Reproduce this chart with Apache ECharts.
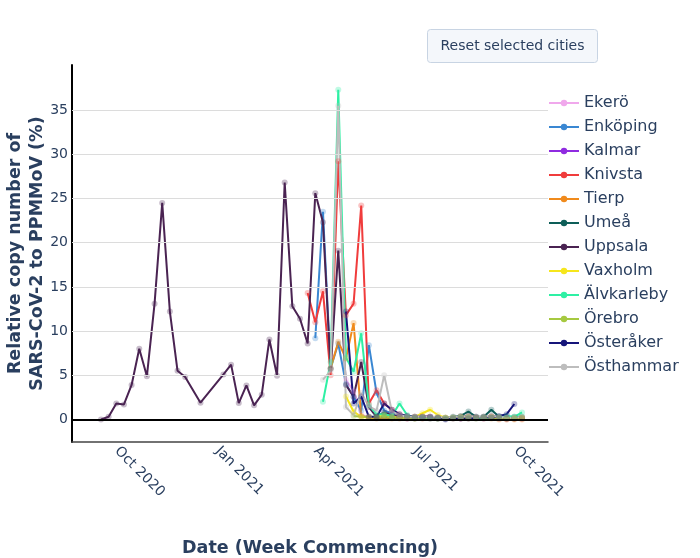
<!DOCTYPE html>
<html>
<head>
<meta charset="utf-8">
<title>SARS-CoV-2 relative copy number</title>
<script src="https://cdn.jsdelivr.net/npm/echarts@6/dist/echarts.min.js"></script>
<style>
  html, body { margin: 0; padding: 0; background: #fff; }
  #chart { width: 700px; height: 558px; }
</style>
</head>
<body>
<div id="chart"></div>
<script>
// samples are weekly; first number = weeks since Mon 21 Sep 2020
const firstWeek = Date.UTC(2020, 8, 21)
const weekMs = 7 * 24 * 3600 * 1000

const cities = ['Ekerö', 'Enköping', 'Kalmar', 'Knivsta', 'Tierp', 'Umeå', 'Uppsala',
  'Vaxholm', 'Älvkarleby', 'Örebro', 'Österåker', 'Östhammar']
const cityColors = ['#f0a8ec', '#3a87d2', '#8f2be0', '#f03c3c', '#f08a1c', '#0d5e58', '#4a2352',
  '#f6e61c', '#2ef0a4', '#a6c940', '#16157a', '#bdbdbd']

const ekero = [[32, 4.5], [33, 3.2], [34, 0.5], [35, 0.3], [36, 0.2], [37, 0.3], [38, 0.2], [39, 0.2],
  [40, 0.1], [41, 0.2], [42, 0.1], [43, 0.2], [44, 0.1], [45, 0.1], [46, 0.2], [47, 0.1], [48, 0.2],
  [49, 0.1], [50, 0.1], [51, 0.2], [52, 0.1], [53, 0.0], [54, 0.1], [55, 0.1]]
const enkoping = [[28, 9.2], [29, 23.5], [30, 5.8], [31, 8.6], [32, 4.0], [33, 2.5], [34, 1.0], [35, 8.4],
  [36, 3.0], [37, 1.0], [38, 0.7], [39, 0.5], [40, 0.3], [41, 0.3], [42, 0.2], [43, 0.2], [44, 0.2],
  [45, 0.1], [46, 0.2], [47, 0.2], [48, 0.3], [49, 0.2], [50, 0.2], [51, 0.3], [52, 0.2], [53, 0.1],
  [54, 0.2], [55, 0.2]]
const kalmar = [[38, 0.2], [39, 0.2], [40, 0.1], [41, 0.2], [42, 0.2], [43, 0.1], [44, 0.1], [45, 0.1],
  [46, 0.2], [47, 0.1], [48, 0.2], [49, 0.2], [50, 0.1], [51, 0.2], [52, 0.1], [53, 0.1], [54, 0.1], [55, 0.1]]
const knivsta = [[27, 14.3], [28, 11.0], [29, 14.5], [30, 5.0], [31, 29.2], [32, 11.8], [33, 13.1],
  [34, 24.2], [35, 1.8], [36, 3.3], [37, 1.8], [38, 1.1], [39, 0.6], [40, 0.4], [41, 0.3], [42, 0.3],
  [43, 0.3], [44, 0.2], [45, 0.2], [46, 0.2], [47, 0.3], [48, 0.3], [49, 0.2], [50, 0.2], [51, 0.3],
  [52, 0.2], [53, 0.1], [54, 0.1], [55, 0.1]]
const tierp = [[30, 5.8], [31, 8.8], [32, 6.9], [33, 10.9], [34, 0.4], [35, 0.2], [36, 0.1], [37, 0.2],
  [38, 0.1], [39, 0.1], [40, 0.1], [41, 0.1], [42, 0.1], [43, 0.1], [44, 0.1], [45, 0.1], [46, 0.1],
  [47, 0.1], [48, 0.1], [49, 0.1], [50, 0.1], [51, 0.1], [52, 0.0], [53, 0.0], [54, 0.0], [55, 0.0]]
const umea = [[36, 0.2], [37, 0.3], [38, 0.2], [39, 0.2], [40, 0.2], [41, 0.1], [42, 0.2], [43, 0.2],
  [44, 0.1], [45, 0.2], [46, 0.3], [47, 0.4], [48, 0.9], [49, 0.3], [50, 0.3], [51, 1.1], [52, 0.3],
  [53, 0.2], [54, 0.3], [55, 0.3]]
const uppsala = [[0, 0.0], [1, 0.3], [2, 1.8], [3, 1.7], [4, 3.9], [5, 8.0], [6, 4.9], [7, 13.1],
  [8, 24.5], [9, 12.2], [10, 5.5], [11, 4.8], [13, 1.9], [16, 5.1], [17, 6.2], [18, 1.85], [19, 3.85],
  [20, 1.6], [21, 2.8], [22, 9.05], [23, 4.95], [24, 26.8], [25, 12.8], [26, 11.4], [27, 8.6],
  [28, 25.6], [29, 22.3], [30, 5.7], [31, 19.1], [32, 3.9], [33, 2.6], [34, 6.5], [35, 1.4], [36, 0.3],
  [37, 0.8], [38, 0.5], [39, 0.3], [40, 0.2], [41, 0.2], [42, 0.3], [43, 0.3], [44, 0.2], [45, 0.1],
  [46, 0.2], [47, 0.3], [48, 0.4], [49, 0.3], [50, 0.2], [51, 0.4], [52, 0.3], [53, 0.1], [54, 0.1], [55, 0.2]]
const vaxholm = [[32, 2.6], [33, 0.9], [34, 0.3], [35, 0.2], [36, 0.3], [37, 0.5], [38, 0.3], [39, 0.2],
  [40, 0.2], [41, 0.3], [42, 0.7], [43, 1.1], [44, 0.5], [45, 0.2], [46, 0.2], [47, 0.2], [48, 0.3],
  [49, 0.2], [50, 0.2], [51, 0.3], [52, 0.2], [53, 0.2], [54, 0.1], [55, 0.2]]
const alvkarleby = [[29, 2.0], [30, 6.5], [31, 37.3], [32, 7.0], [33, 5.4], [34, 9.75], [35, 1.6],
  [36, 0.6], [37, 0.6], [38, 0.4], [39, 1.8], [40, 0.5], [41, 0.2], [42, 0.2], [43, 0.1], [44, 0.1],
  [45, 0.1], [46, 0.2], [47, 0.2], [48, 0.2], [49, 0.1], [50, 0.2], [51, 0.2], [52, 0.3], [53, 0.4],
  [54, 0.3], [55, 0.8]]
const orebro = [[33, 0.4], [34, 0.3], [35, 0.3], [36, 0.2], [37, 0.3], [38, 0.2], [39, 0.2], [40, 0.2],
  [41, 0.1], [42, 0.2], [43, 0.2], [44, 0.1], [45, 0.2], [46, 0.2], [47, 0.3], [48, 0.2], [49, 0.2],
  [50, 0.3], [51, 0.2], [52, 0.2], [53, 0.1], [54, 0.2], [55, 0.2]]
const osteraker = [[32, 12.2], [33, 1.8], [34, 2.6], [35, 0.3], [36, 0.3], [37, 1.8], [38, 1.1],
  [39, 0.6], [40, 0.4], [41, 0.3], [42, 0.3], [43, 0.3], [44, 0.2], [45, 0.0], [46, 0.1], [47, 0.1],
  [48, 0.1], [49, 0.2], [50, 0.3], [51, 0.2], [52, 0.4], [53, 0.6], [54, 1.75]]
const osthammar = [[29, 4.5], [30, 5.5], [31, 35.5], [32, 1.4], [33, 0.5], [34, 3.0], [35, 1.5],
  [36, 1.0], [37, 5.0], [38, 0.9], [39, 0.5], [40, 0.3], [41, 0.3], [42, 0.3], [43, 0.3], [44, 0.3],
  [45, 0.2], [46, 0.3], [47, 0.3], [48, 0.4], [49, 0.3], [50, 0.3], [51, 0.4], [52, 0.3], [53, 0.2],
  [54, 0.2], [55, 0.3]]

const cityData = [ekero, enkoping, kalmar, knivsta, tierp, umea, uppsala, vaxholm, alvkarleby,
  orebro, osteraker, osthammar]

const yTicks = [0, 5, 10, 15, 20, 25, 30, 35]
const xTicks = [Date.UTC(2020, 9, 1), Date.UTC(2021, 0, 1), Date.UTC(2021, 3, 1), Date.UTC(2021, 6, 1), Date.UTC(2021, 9, 1)]
const monthNames = ['Jan', 'Feb', 'Mar', 'Apr', 'May', 'Jun', 'Jul', 'Aug', 'Sep', 'Oct', 'Nov', 'Dec']

const textColor = '#2a3f5f'
const font = '"DejaVu Sans", Verdana, sans-serif'

const chart = echarts.init(document.getElementById('chart'))

const series = [{
  // gridlines + zero line, drawn underneath the data
  name: 'grid',
  type: 'line',
  data: [],
  silent: true,
  markLine: {
    silent: true,
    symbol: ['none', 'none'],
    animation: false,
    label: { show: false },
    data: yTicks.map(v => ({
      yAxis: v,
      lineStyle: v === 0 ? { color: '#000', width: 2, type: 'solid' } : { color: '#dcdcdc', width: 1, type: 'solid' }
    }))
  }
}]

cities.forEach((name, i) => {
  series.push({
    name: name,
    type: 'line',
    data: cityData[i].map(d => [firstWeek + d[0] * weekMs, d[1]]),
    symbol: 'circle',
    symbolSize: 6,
    showAllSymbol: true,
    color: cityColors[i],
    lineStyle: { width: 2, color: cityColors[i] },
    itemStyle: { color: cityColors[i], opacity: 0.3 },
    emphasis: { disabled: true },
    animation: false
  })
})

const option = {
  textStyle: { fontFamily: font },
  grid: { left: 72, right: 152, top: 65, bottom: 116, outerBoundsMode: 'none', containLabel: false },
  xAxis: {
    type: 'value',
    min: Date.UTC(2020, 7, 25, 12),
    max: Date.UTC(2021, 10, 3, 19),
    name: 'Date (Week Commencing)',
    nameLocation: 'middle',
    nameGap: 97,
    nameMoveOverlap: false,
    nameTextStyle: { fontSize: 17.5, fontWeight: 'bold', color: textColor, fontFamily: font },
    axisLine: { show: true, onZero: false, lineStyle: { color: '#444', width: 1.5 } },
    axisTick: { show: false },
    splitLine: { show: false },
    axisLabel: {
      customValues: xTicks,
      rotate: -45,
      margin: 12,
      verticalAlign: 'bottom',
      fontSize: 14,
      color: textColor,
      fontFamily: font,
      formatter: v => {
        const d = new Date(v)
        return monthNames[d.getUTCMonth()] + ' ' + d.getUTCFullYear()
      }
    }
  },
  yAxis: {
    type: 'value',
    min: -2.55,
    max: 40.1,
    name: 'Relative copy number of\nSARS-CoV-2 to PPMMoV (%)',
    nameLocation: 'middle',
    nameGap: 24,
    nameMoveOverlap: false,
    nameTextStyle: { fontSize: 17.5, fontWeight: 'bold', color: textColor, fontFamily: font, lineHeight: 22 },
    axisLine: { show: true, lineStyle: { color: '#000', width: 2 } },
    axisTick: { show: false },
    splitLine: { show: false },
    axisLabel: { customValues: yTicks, margin: 4, fontSize: 14, color: textColor, fontFamily: font }
  },
  legend: {
    data: cities,
    orient: 'vertical',
    left: 543,
    top: 90,
    itemWidth: 30,
    itemHeight: 8,
    itemGap: 8,
    textStyle: { fontSize: 16, color: textColor, fontFamily: font },
    itemStyle: { opacity: 1 }
  },
  graphic: [{
    type: 'group',
    left: 427,
    top: 29,
    children: [{
      type: 'rect',
      shape: { x: 0, y: 0, width: 170, height: 33, r: 3 },
      style: { fill: '#f4f7fb', stroke: '#c8d4e3', lineWidth: 1 }
    }, {
      type: 'text',
      x: 85,
      y: 17,
      style: { text: 'Reset selected cities', fill: textColor, font: '14px ' + font, align: 'center', verticalAlign: 'middle' }
    }]
  }],
  series: series
}

chart.setOption(option)
</script>
</body>
</html>
